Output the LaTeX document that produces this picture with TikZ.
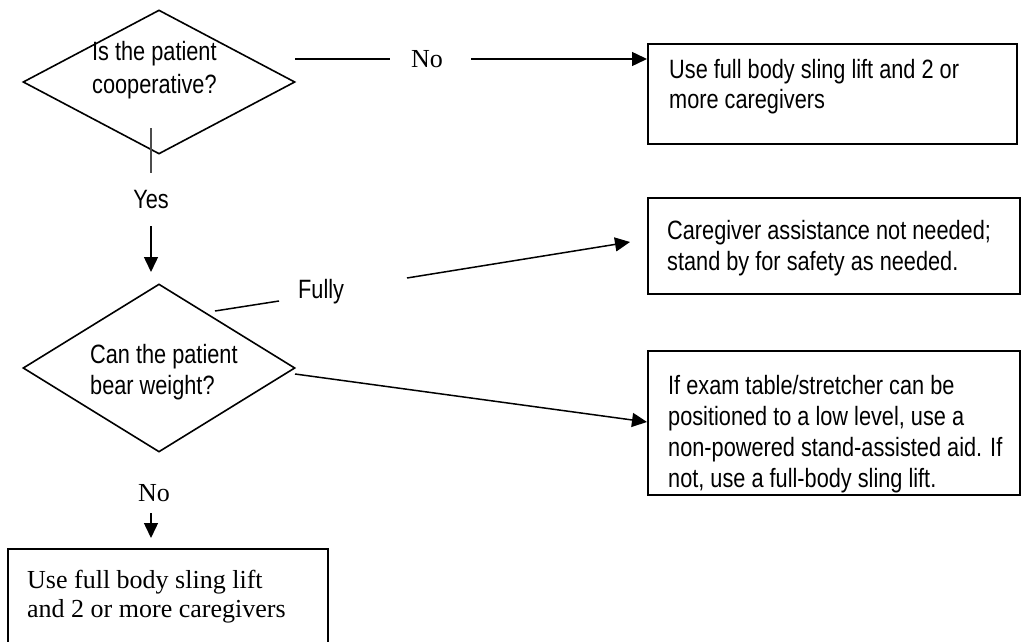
\documentclass[tikz,border=0pt]{standalone}
\usepackage{fontspec}
\usetikzlibrary{shapes.geometric,arrows.meta}
\newfontfamily\narrowsans[FakeStretch=0.82]{Liberation Sans}
\newfontfamily\timesfont{Liberation Serif}
\begin{document}
\begin{tikzpicture}[x=1pt,y=-1pt,
  dia/.style={draw,shape=diamond,line width=1.6pt,inner sep=0pt,aspect=1.8,minimum width=272pt},
  box/.style={draw,rectangle,line width=2.2pt,inner sep=0pt,anchor=north west},
  sans/.style={font=\narrowsans\fontsize{26.5}{31}\selectfont,inner sep=0pt,align=left,anchor=base west},
  serifl/.style={font=\timesfont\fontsize{26}{29}\selectfont,inner sep=0pt,align=left,anchor=base west},
  ln/.style={line width=1.5pt},
  arr/.style={line width=1.5pt,-{Triangle[length=15pt,width=14pt]}}]
\useasboundingbox (0,0) rectangle (1021,642);
% decision shapes
\node[dia,minimum height=144pt] (D1) at (159,82) {};
\node[dia,minimum height=168pt] (D2) at (159,368) {};
\node[sans,font=\narrowsans\fontsize{26.5}{33}\selectfont] (t1) at (92,94) {Is the patient\\cooperative?};
\node[sans] (t2) at (90,394) {Can the patient\\bear weight?};
% boxes
\node[box,minimum width=369pt,minimum height=100pt] (B1) at (647,43) {};
\node[box,minimum width=372pt,minimum height=96pt] (B2) at (647,197) {};
\node[box,minimum width=372pt,minimum height=144pt] (B3) at (647,350) {};
\node[box,minimum width=320pt,minimum height=97pt] (B4) at (7,548) {};
\node[sans] (tb1) at (669,109) {Use full body sling lift and 2 or\\more caregivers};
\node[sans] (tb2) at (667,270) {Caregiver assistance not needed;\\stand by for safety as needed.};
\node[sans] (tb3) at (668,487) {If exam table/stretcher can be\\positioned to a low level, use a\\non-powered stand-assisted aid. If\\not, use a full-body sling lift.};
\node[serifl] (tb4) at (27,617) {Use full body sling lift\\and 2 or more caregivers};
% labels
\node[serifl,anchor=base] (no1) at (427,68) {No};
\node[sans,anchor=base] (yes) at (151,208) {Yes};
\node[sans,anchor=base west] (fully) at (298,298) {Fully};
\node[serifl,anchor=base] (no2) at (154,501) {No};
% coordinates
\coordinate (n1a) at (295,59);
\coordinate (n1b) at (390,59);
\coordinate (n1c) at (471,59);
\coordinate (y1) at (151,128);
\coordinate (y2) at (151,173);
\coordinate (y3) at (151,226);
\coordinate (y4) at (151,272);
\coordinate (f1) at (215,311);
\coordinate (f2) at (279,301);
\coordinate (f3) at (407,278);
\coordinate (f4) at (630,242);
\coordinate (w1) at (295,374);
\coordinate (w2) at (647,422);
\coordinate (b1) at (151,513);
\coordinate (b2) at (151,538);
% connectors
\draw[ln] (n1a) -- (n1b);
\draw[arr] (n1c) -- (B1.west |- n1c);
\draw[line width=1.5pt,black!70] (y1) -- (y2);
\draw[arr] (y3) -- (y4);
\draw[ln] (f1) -- (f2);
\draw[arr] (f3) -- (f4);
\draw[arr] (w1) -- (w2);
\draw[arr] (b1) -- (b2);
\end{tikzpicture}
\end{document}
